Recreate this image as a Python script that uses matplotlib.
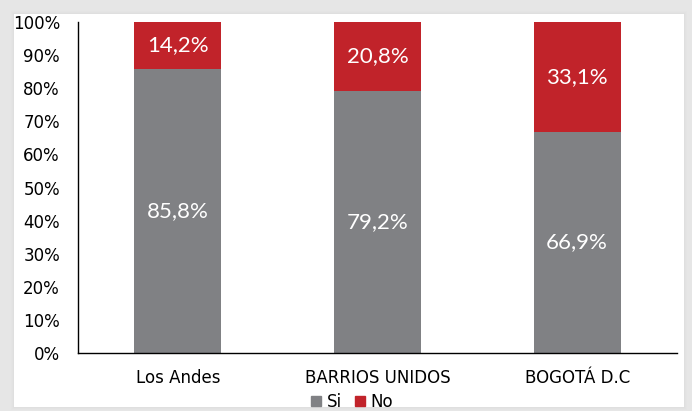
import matplotlib
matplotlib.use("Agg")
import matplotlib.pyplot as plt
from matplotlib.patches import Rectangle, Patch

categories = ["Los Andes", "BARRIOS UNIDOS", "BOGOTÁ D.C"]
si = [85.8, 79.2, 66.9]
no = [14.2, 20.8, 33.1]
yticks = [0, 10, 20, 30, 40, 50, 60, 70, 80, 90, 100]

GRAY = "#808184"
RED = "#C1232A"

W, H = 692, 411
fig = plt.figure(figsize=(W / 100, H / 100), dpi=100)
fig.patch.set_facecolor("#e6e6e6")

# soft shadow + white panel
for i, a in enumerate([0.04, 0.06, 0.08]):
    d = 3 - i
    fig.patches.append(Rectangle(((14 - d) / W, (4 - d) / H), (670 + 2 * d) / W, (393 + 2 * d) / H,
                                 transform=fig.transFigure, facecolor="#c8c8c8", alpha=a,
                                 edgecolor="none", zorder=-2))
fig.patches.append(Rectangle((14 / W, 4 / H), 670 / W, 393 / H, transform=fig.transFigure,
                             facecolor="white", edgecolor="none", zorder=-1))

ax = fig.add_axes([78 / W, 1 - 353 / H, 599 / W, 331 / H])
ax.set_zorder(1)
ax.set_facecolor("none")
x = list(range(len(categories)))
bw = 0.435
b1 = ax.bar(x, si, width=bw, color=GRAY, label="Si")
b2 = ax.bar(x, no, width=bw, bottom=si, color=RED, label="No")

lab_font = dict(family=["Lato", "DejaVu Sans"], fontsize=16, color="white", ha="center", va="center")
for xi, s, n in zip(x, si, no):
    ax.text(xi, s / 2, f"{s:.1f}%".replace(".", ","), **lab_font)
    ax.text(xi, s + n / 2, f"{n:.1f}%".replace(".", ","), **lab_font)

ax.set_xlim(-0.5, len(categories) - 0.5)
ax.set_ylim(0, 100)
ax.set_yticks(yticks)
ax.set_yticklabels([f"{t}%" for t in yticks], fontsize=12, family="DejaVu Sans")
ax.set_xticks(x)
ax.set_xticklabels(categories, fontsize=12, family="DejaVu Sans")
ax.tick_params(axis="both", length=0, colors="black")
ax.tick_params(axis="y", pad=13)
ax.tick_params(axis="x", pad=11.5)
for sp in ["top", "right"]:
    ax.spines[sp].set_visible(False)
for sp in ["left", "bottom"]:
    ax.spines[sp].set_color("black")
    ax.spines[sp].set_linewidth(1.0)

leg = fig.legend(handles=[Patch(color=GRAY, label="Si"), Patch(color=RED, label="No")],
                 loc="center", bbox_to_anchor=(352 / W, 1 - 402 / H), ncol=2, frameon=False,
                 handlelength=0.6, handleheight=0.6, handletextpad=0.3, columnspacing=0.8,
                 prop=dict(family="DejaVu Sans", size=12))
leg.set_zorder(2)

fig.savefig("out.png", dpi=100, facecolor=fig.get_facecolor())
